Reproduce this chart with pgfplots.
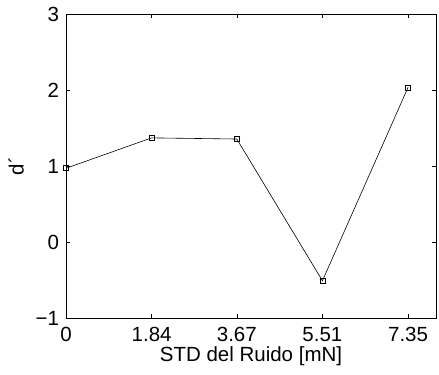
\documentclass[border=0pt]{standalone}
\usepackage{pgfplots}
\pgfplotsset{compat=1.18}
\usepackage{fontspec}
\setmainfont{Liberation Sans}
\begin{document}
\fontsize{20.5bp}{24bp}\selectfont
\begin{tikzpicture}
\begin{axis}[
  name=ax,
  scale only axis,
  width=370bp, height=304bp,
  xmin=0, xmax=7.95, ymin=-1, ymax=3,
  xtick={0,1.84,3.67,5.51,7.35},
  xticklabels={0,1.84,3.67,5.51,7.35},
  ytick={-1,0,1,2,3},
  yticklabels={−1,0,1,2,3},
  tick align=inside,
  major tick length=4bp,
  tick style={black, line width=0.6bp},
  axis line style={line width=0.9bp},
  tick label style={font=\fontsize{20.5bp}{24bp}\selectfont},
  label style={font=\fontsize{20.5bp}{24bp}\selectfont},
  xticklabel style={yshift=-2bp},
  xlabel={STD del Ruido [mN]},
  ylabel={d´},
  xlabel style={yshift=9bp},
  ylabel style={yshift=-2bp},
]
\addplot[black, line width=0.6bp, mark=square, mark size=2.5bp, mark options={solid, line width=0.6bp}]
coordinates {(0,0.97) (1.84,1.37) (3.67,1.355) (5.51,-0.51) (7.35,2.035)};
\end{axis}
\pgfresetboundingbox
\path ([shift={(-66bp,-57bp)}]ax.south west) rectangle ([shift={(3bp,14bp)}]ax.north east);
\end{tikzpicture}
\end{document}
